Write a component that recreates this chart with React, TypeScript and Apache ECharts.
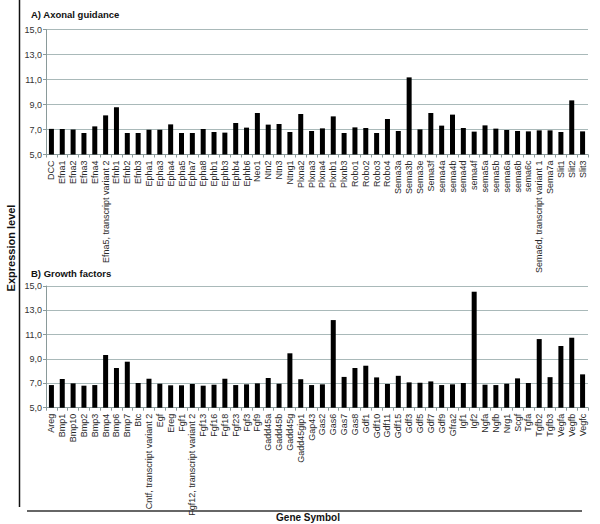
import React, { useEffect, useRef } from "react";
import * as echarts from "echarts";

const categoriesA = [
  "DCC", "Efna1", "Efna2", "Efna3", "Efna4", "Efna5, transcript variant 2", "Efnb1", "Efnb2", "Efnb3",
  "Epha1", "Epha3", "Epha4", "Epha5", "Epha7", "Epha8", "Ephb1", "Ephb3", "Ephb4", "Ephb6", "Neo1",
  "Ntn2", "Ntn3", "Ntng1", "Plxna2", "Plxna3", "Plxna4", "Plxnb1", "Plxnb3", "Robo1", "Robo2", "Robo3",
  "Robo4", "Sema3a", "Sema3b", "Sema3e", "Sema3f", "sema4a", "sema4b", "sema4d", "sema4f", "sema5a",
  "sema5b", "sema6a", "sema6b", "sema6c", "Sema6d, transcript variant 1", "Sema7a", "Slit1", "Slit2", "Slit3",
];
const valuesA = [
  7.05, 7.05, 7.0, 6.72, 7.25, 8.13, 8.78, 6.72, 6.72, 6.98, 6.98, 7.41, 6.72, 6.72, 7.04, 6.8, 6.75,
  7.52, 7.15, 8.32, 7.39, 7.44, 6.8, 8.24, 6.88, 7.09, 8.05, 6.72, 7.17, 7.12, 6.72, 7.84, 6.88, 11.17,
  7.01, 8.32, 7.31, 8.19, 7.12, 6.83, 7.33, 7.07, 6.96, 6.88, 6.85, 6.93, 6.93, 6.8, 9.33, 6.85,
];

const categoriesB = [
  "Areg", "Bmp1", "Bmp10", "Bmp2", "Bmp3", "Bmp4", "Bmp6", "Bmp7", "Btc", "Cntf, transcript variant 2",
  "Egf", "Ereg", "Fgf1", "Fgf12, transcript variant 2", "Fgf13", "Fgf16", "Fgf18", "Fgf23", "Fgf3", "Fgf9",
  "Gadd45a", "Gadd45b", "Gadd45g", "Gadd45gip1", "Gap43", "Gas2", "Gas6", "Gas7", "Gas8", "Gdf1", "Gdf10",
  "Gdf11", "Gdf15", "Gdf3", "Gdf5", "Gdf7", "Gdf9", "Gfra2", "Igf1", "Igf2", "Ngfa", "Ngfb", "Nrg1", "Scgf",
  "Tgfa", "Tgfb2", "Tgfb3", "Vegfa", "Vegfb", "Vegfc",
];
const valuesB = [
  6.86, 7.36, 7.0, 6.81, 6.86, 9.33, 8.26, 8.78, 7.03, 7.38, 6.97, 6.84, 6.84, 6.95, 6.81, 6.89, 7.38,
  6.86, 6.92, 7.0, 7.44, 6.97, 9.47, 7.34, 6.86, 6.92, 12.2, 7.53, 8.26, 8.45, 7.49, 6.95, 7.62, 7.08,
  7.05, 7.16, 6.86, 6.92, 7.03, 14.53, 6.89, 6.86, 6.97, 7.41, 7.03, 10.64, 7.51, 10.07, 10.75, 7.74,
];

const yTicks = { min: 5, max: 15, interval: 2 };
const panelTitles = ["A) Axonal guidance", "B) Growth factors"];
const xAxisTitle = "Gene Symbol";
const yAxisTitle = "Expression level";

const FONT = "Liberation Sans, Arial, sans-serif";

export default function App() {
  const ref = useRef<HTMLDivElement>(null);
  useEffect(() => {
    if (!ref.current) return;
    const chart = echarts.init(ref.current, null, { renderer: "svg" });
    const grids = [
      { left: 46, right: 12, top: 29.5, height: 125 },
      { left: 46, right: 12, top: 286, height: 121.7 },
    ];
    const mkX = (cats: string[], gi: number) => ({
      type: "category",
      gridIndex: gi,
      data: cats,
      boundaryGap: true,
      axisLine: { show: true, lineStyle: { color: "#8a9a9a", width: 1 } },
      axisTick: { show: true, alignWithLabel: false, length: 3, lineStyle: { color: "#8a9a9a" } },
      axisLabel: {
        interval: 0,
        rotate: 90,
        fontSize: 9,
        fontFamily: FONT,
        color: "#2a2a2a",
        margin: 6,
      },
    });
    const mkY = (gi: number) => ({
      type: "value",
      gridIndex: gi,
      min: yTicks.min,
      max: yTicks.max,
      interval: yTicks.interval,
      axisLine: { show: true, lineStyle: { color: "#8a9a9a", width: 1 } },
      axisTick: { show: true, length: 3, lineStyle: { color: "#8a9a9a" } },
      splitLine: { show: true, lineStyle: { color: "#a9b9b9", width: 1 } },
      axisLabel: {
        fontSize: 9,
        fontFamily: FONT,
        color: "#333",
        margin: 4,
        formatter: (v: number) => v.toFixed(1).replace(".", ","),
      },
    });
    chart.setOption({
      animation: false,
      backgroundColor: "#fff",
      title: [
        { text: panelTitles[0], left: 26, top: 4, textStyle: { fontSize: 9.5, fontWeight: "bold", fontFamily: FONT, color: "#111" } },
        { text: panelTitles[1], left: 26, top: 263, textStyle: { fontSize: 9.5, fontWeight: "bold", fontFamily: FONT, color: "#111" } },
      ],
      grid: grids,
      xAxis: [mkX(categoriesA, 0), mkX(categoriesB, 1)],
      yAxis: [mkY(0), mkY(1)],
      series: [
        { type: "bar", xAxisIndex: 0, yAxisIndex: 0, data: valuesA, barWidth: 5, itemStyle: { color: "#000" } },
        { type: "bar", xAxisIndex: 1, yAxisIndex: 1, data: valuesB, barWidth: 5, itemStyle: { color: "#000" } },
      ],
      graphic: [
        { type: "line", shape: { x1: 19.5, y1: 0, x2: 19.5, y2: 507 }, style: { stroke: "#111", lineWidth: 1.5 } },
        { type: "line", shape: { x1: 27, y1: 511, x2: 582, y2: 511 }, style: { stroke: "#666", lineWidth: 2 } },
        {
          type: "text",
          x: 308,
          y: 517,
          style: { text: xAxisTitle, font: `bold 10px ${FONT}`, fill: "#111", textAlign: "center", textVerticalAlign: "middle" },
        },
        {
          type: "text",
          x: 11,
          y: 248,
          rotation: Math.PI / 2,
          style: { text: yAxisTitle, font: `bold 11px ${FONT}`, fill: "#111", textAlign: "center", textVerticalAlign: "middle" },
        },
      ],
    });
    return () => chart.dispose();
  }, []);
  return (
    <div
      ref={ref}
      style={{ position: "fixed", left: 0, top: 0, width: 600, height: 524, background: "#fff" }}
    />
  );
}
